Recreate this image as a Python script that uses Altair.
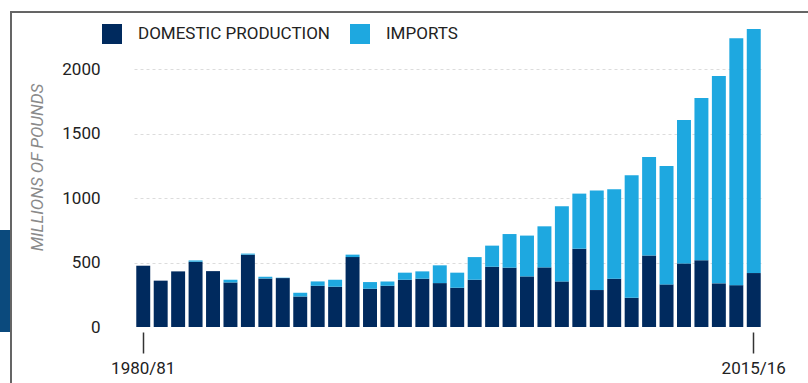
import altair as alt
import pandas as pd

years = ["1980/81", "1981/82", "1982/83", "1983/84", "1984/85", "1985/86", "1986/87",
         "1987/88", "1988/89", "1989/90", "1990/91", "1991/92", "1992/93", "1993/94",
         "1994/95", "1995/96", "1996/97", "1997/98", "1998/99", "1999/00", "2000/01",
         "2001/02", "2002/03", "2003/04", "2004/05", "2005/06", "2006/07", "2007/08",
         "2008/09", "2009/10", "2010/11", "2011/12", "2012/13", "2013/14", "2014/15",
         "2015/16"]
domestic = [476, 360, 432, 507, 434, 346, 562, 377, 380, 237, 320, 313, 543, 297,
            320, 367, 375, 341, 305, 367, 468, 461, 393, 463, 354, 608, 287, 375,
            227, 556, 331, 494, 518, 339, 325, 419]
imports = [0, 0, 0, 10, 0, 21, 8, 14, 3, 29, 34, 54, 19, 52, 34, 55, 57, 138, 117,
           176, 164, 261, 317, 319, 584, 428, 773, 695, 952, 765, 920, 1113, 1260,
           1610, 1918, 1896]
series = ["DOMESTIC PRODUCTION", "IMPORTS"]
colors = ["#002a5e", "#1ea8e0"]
y_ticks = [0, 500, 1000, 1500, 2000]
x_labels = ["1980/81", "2015/16"]

rows = []
for i, yr in enumerate(years):
    rows.append({"year": yr, "type": series[0], "value": domestic[i], "ord": 0})
    rows.append({"year": yr, "type": series[1], "value": imports[i], "ord": 1})
df = pd.DataFrame(rows)

FONT = "Roboto"

bars = alt.Chart(df).mark_bar().encode(
    x=alt.X("year:N", sort=years,
            scale=alt.Scale(paddingInner=0.2, paddingOuter=0.13),
            axis=alt.Axis(values=x_labels, title=None, labelAngle=0, domain=False,
                          ticks=True, tickSize=21, tickColor="#333", tickWidth=1.5,
                          offset=5, labelPadding=7, labelFont=FONT, labelFontSize=17,
                          labelColor="#222", grid=False)),
    y=alt.Y("value:Q", stack="zero",
            scale=alt.Scale(domain=[0, 2400], nice=False),
            axis=alt.Axis(values=y_ticks, format="d", title="MILLIONS OF POUNDS", domain=False,
                          ticks=False, labelPadding=34, labelFont=FONT, labelFontSize=17,
                          labelColor="#222", grid=True, gridColor="#dcdcdc",
                          gridDash=[3, 3], gridWidth=1,
                          gridOpacity={"condition": {"test": "datum.value === 0", "value": 0}, "value": 1},
                          titleFont=FONT, titleFontSize=17, titleFontStyle="italic",
                          titleFontWeight="normal", titleColor="#8a8a8a",
                          titleX=-88, titleY=149, titleBaseline="bottom", titleAngle=270)),
    color=alt.Color("type:N", scale=alt.Scale(domain=series, range=colors),
                    legend=alt.Legend(orient="none", legendX=-32, legendY=6,
                                      direction="horizontal", title=None,
                                      symbolType="square", symbolSize=400,
                                      symbolStrokeWidth=0, symbolOpacity=1,
                                      labelFont=FONT, labelFontSize=17, labelLimit=0,
                                      labelColor="#222", labelOffset=16,
                                      columnPadding=20, padding=0)),
    order=alt.Order("ord:Q"),
)

deco = alt.Chart(df).mark_rect(color="#0b4a7d").encode(
    x=alt.value(-134), x2=alt.value(-123), y=alt.value(212), y2=alt.value(314)
)
border_top = alt.Chart(df).mark_rule(color="#666", strokeWidth=1.3).encode(
    x=alt.value(-123), x2=alt.value(674), y=alt.value(-6.3)
)
border_left = alt.Chart(df).mark_rule(color="#666", strokeWidth=1.3).encode(
    x=alt.value(-123), y=alt.value(-6.3), y2=alt.value(365)
)

chart = alt.layer(deco, border_top, border_left, bars).properties(
    width=629, height=309,
    padding={"left": 134, "top": 18, "right": 45, "bottom": 56},
    autosize=alt.AutoSizeParams(type="none"),
    background="white",
).configure_view(stroke=None)

chart.save("out.html", embed_options={"renderer": "svg", "actions": False})
